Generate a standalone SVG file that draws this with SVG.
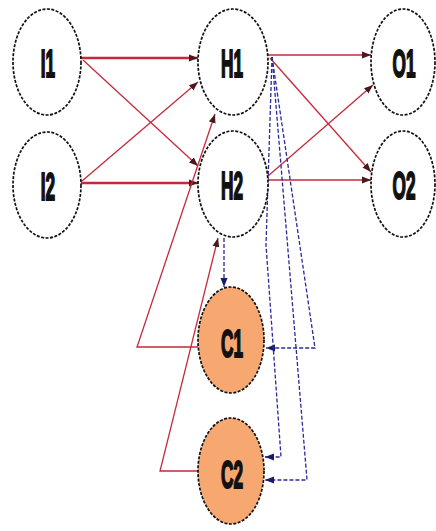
<svg xmlns="http://www.w3.org/2000/svg" width="436" height="531" viewBox="0 0 436 531">
<style>
.node ellipse{fill:#ffffff;stroke:#111;stroke-width:1.7;stroke-dasharray:3 1.5}
.ctx ellipse{fill:#f7a870}
.node text{font-family:"Liberation Sans",Arial,sans-serif;font-weight:bold;font-size:21px;text-anchor:middle;fill:#111;stroke:#111;stroke-width:1.1}
.red{fill:none;stroke:#c42a3c;stroke-width:1.3;marker-end:url(#ar)}
.thick{stroke-width:2.6}
.blue{fill:none;stroke:#2a2a9a;stroke-width:1.3;stroke-dasharray:4 2;marker-end:url(#ab)}
</style>
<defs>
<marker id="ar" markerUnits="userSpaceOnUse" markerWidth="10" markerHeight="8" refX="9" refY="4" orient="auto"><path d="M0,0.5 L9,4 L0,7.5 Z" fill="#4a1a1a"/></marker>
<marker id="ab" markerUnits="userSpaceOnUse" markerWidth="10" markerHeight="8" refX="9" refY="4" orient="auto"><path d="M0,0.5 L9,4 L0,7.5 Z" fill="#1a1a6a"/></marker>
</defs>
<rect width="436" height="531" fill="#ffffff"/>
<g id="connectors">
<path class="red thick" d="M81,58 L198,58"/>
<path class="red" d="M83,60 L198,166"/>
<path class="red" d="M82,181 L198,82"/>
<path class="red thick" d="M81,183 L198,183"/>
<path class="red" d="M268,55 L371,55"/>
<path class="red" d="M270,58 L371,172"/>
<path class="red" d="M268,176 L373,85"/>
<path class="red" d="M268,180 L371,180"/>
<path class="red" d="M198,347 L137,347 L215,114"/>
<path class="red" d="M198,471 L160,471 L218,238"/>
<path class="blue" d="M224,238 L224,287"/>
<path class="blue" d="M272,57 L315,348 L266,348"/>
<path class="blue" d="M272,57 L307,480 L265,480"/>
<path class="blue" d="M272,57 L266,245 L281,457 L265,457"/>
</g>
<g id="I1" class="node"><ellipse cx="47" cy="62" rx="34" ry="53"/><text transform="translate(48,77) scale(0.82,1.85)">I1</text></g>
<g id="I2" class="node"><ellipse cx="47" cy="185" rx="34" ry="53"/><text transform="translate(48,200) scale(0.82,1.85)">I2</text></g>
<g id="H1" class="node"><ellipse cx="233" cy="62" rx="35" ry="53"/><text transform="translate(232,77) scale(0.82,1.85)">H1</text></g>
<g id="H2" class="node"><ellipse cx="233" cy="184" rx="35" ry="53"/><text transform="translate(232,199) scale(0.82,1.85)">H2</text></g>
<g id="O1" class="node"><ellipse cx="403" cy="62" rx="32" ry="53"/><text transform="translate(404,77) scale(0.82,1.85)">O1</text></g>
<g id="O2" class="node"><ellipse cx="403" cy="184" rx="32" ry="53"/><text transform="translate(404,199) scale(0.82,1.85)">O2</text></g>
<g id="C1" class="node ctx"><ellipse cx="231" cy="340" rx="33" ry="53"/><text transform="translate(232,357) scale(0.82,1.85)">C1</text></g>
<g id="C2" class="node ctx"><ellipse cx="231" cy="471" rx="33" ry="53"/><text transform="translate(232,488) scale(0.82,1.85)">C2</text></g>
</svg>
